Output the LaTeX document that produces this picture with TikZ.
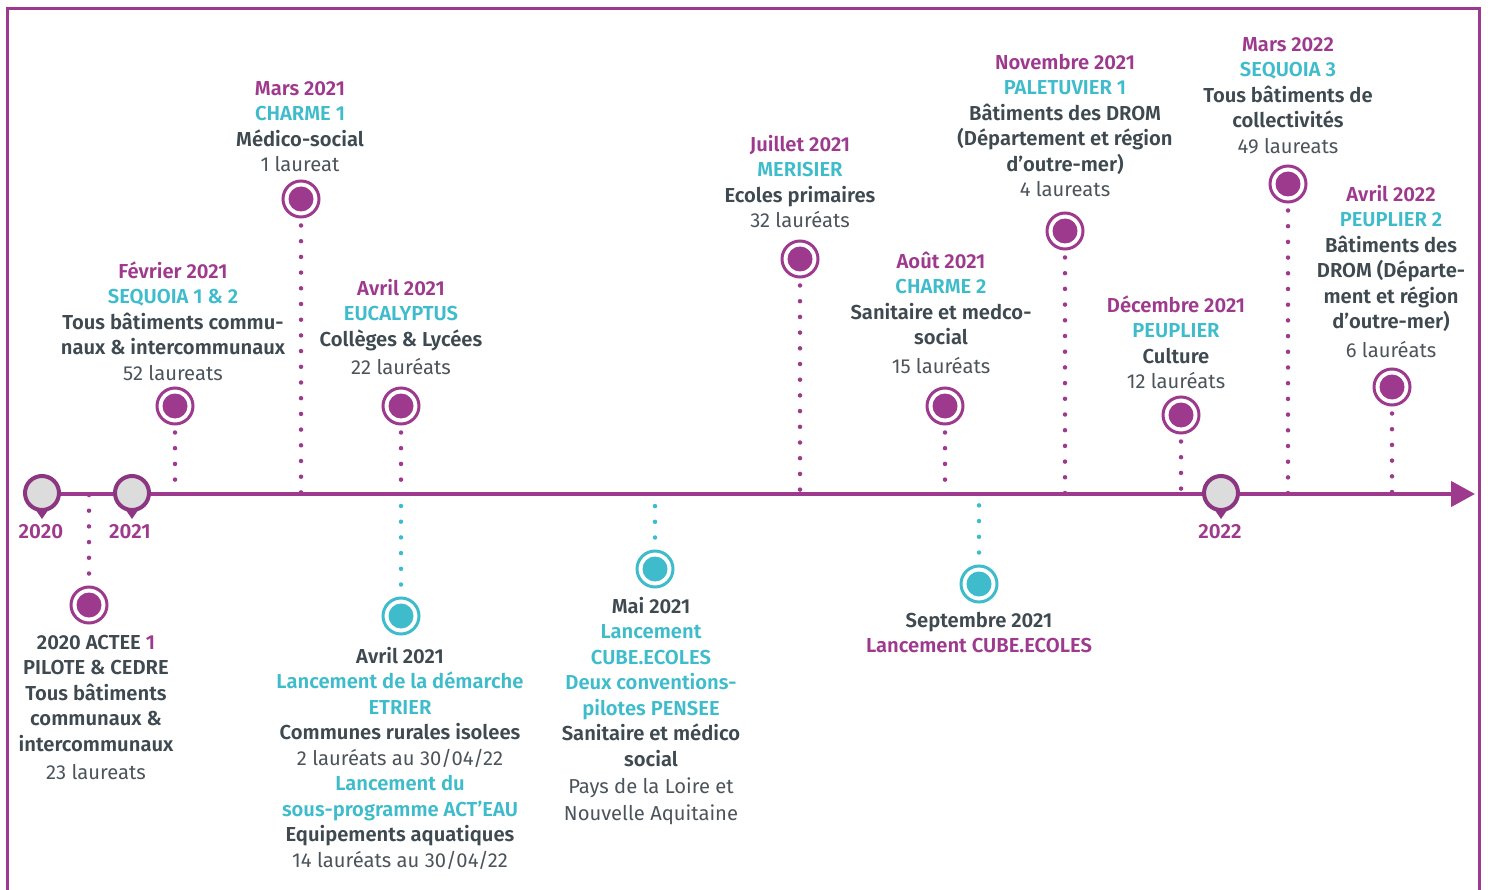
\documentclass[tikz,border=0pt]{standalone}
\usepackage{fontspec}
\setmainfont{Fira Sans}[BoldFont={Fira Sans SemiBold}]
\usetikzlibrary{arrows.meta,calc,backgrounds}
\definecolor{pur}{HTML}{9E3A8D}
\definecolor{cya}{HTML}{3FBCCB}
\definecolor{dk}{HTML}{3E4950}
\definecolor{gy}{HTML}{4B545A}
\definecolor{pinfill}{HTML}{DCDCDC}
\definecolor{pinring}{HTML}{8C3580}
\newcommand\Pu[1]{{\bfseries\color{pur}#1}}
\newcommand\Cy[1]{{\bfseries\color{cya}#1}}
\newcommand\Dk[1]{{\bfseries\color{dk}#1}}
\newcommand\Rg[1]{{\color{gy}#1}}
\tikzset{
  blk/.style={align=center, inner sep=0pt, anchor=north, font=\fontsize{20.2}{25.5}\selectfont},
  evP/.style={circle, draw=pur, line width=3pt, fill=white, minimum size=36pt, inner sep=0pt,
     path picture={\fill[pur] (path picture bounding box.center) circle[radius=12.5pt];}},
  evC/.style={circle, draw=cya, line width=3pt, fill=white, minimum size=36pt, inner sep=0pt,
     path picture={\fill[cya] (path picture bounding box.center) circle[radius=12.5pt];}},
  yrpin/.style={circle, draw=pinring, fill=pinfill, line width=4pt, minimum size=34pt, inner sep=0pt},
  yrlab/.style={inner sep=0pt, font=\fontsize{20.5}{24}\selectfont\bfseries, text=pur},
  dotP/.style={pur, line width=4.5pt, line cap=round, dash pattern=on 0pt off 15.7pt},
  dotC/.style={cya, line width=4.5pt, line cap=round, dash pattern=on 0pt off 15.7pt},
}
\begin{document}
\begin{tikzpicture}[x=1pt,y=-1pt]
\useasboundingbox (0,0) rectangle (1488,890);
% frame
\draw[pur, line width=3pt] (7,890) -- (7,9) -- (1479,9) -- (1479,890);
% timeline coordinates
\coordinate (tl0) at (30,494);
\coordinate (tl1) at (1475,494);
% event markers (top)
\node[evP] (feb21) at (175,406) {};
\node[evP] (mar21) at (301,199) {};
\node[evP] (avr21) at (401,406) {};
\node[evP] (jul21) at (800,259) {};
\node[evP] (aou21) at (945,406) {};
\node[evP] (nov21) at (1065,231) {};
\node[evP] (dec21) at (1181,415) {};
\node[evP] (mar22) at (1288,184) {};
\node[evP] (avr22) at (1392,387) {};
% event markers (bottom)
\node[evP] (actee) at (89,605) {};
\node[evC] (avr21b) at (401,616) {};
\node[evC] (mai21) at (655,569) {};
\node[evC] (sep21) at (979,584) {};
% year pins
\foreach \n/\x in {p2020/42,p2021/132,p2022/1221}{
  \fill[pinring] (\x-11,503) -- (\x,519) -- (\x+11,503) -- cycle;
  \node[yrpin] (\n) at (\x,493) {};
}
\begin{pgfonlayer}{background}
\foreach \m in {feb21,mar21,avr21,jul21,aou21,nov21,dec21,mar22,avr22}{
  \draw[dotP] ($(\m.south)+(0,7)$) -- (\m.south |- tl0);
}
\draw[dotP] ($(actee.north)+(0,-12)$) -- (actee.north |- tl0);
\foreach \m in {avr21b,mai21,sep21}{
  \draw[dotC] ($(\m.north)+(0,-12)$) -- (\m.north |- tl0);
}
\draw[pur, line width=4.5pt, -{Triangle[length=24pt,width=25pt]}] (tl0) -- (tl1);
\end{pgfonlayer}
\node[yrlab] (y2020) at (41,532) {2020};
\node[yrlab] (y2021) at (130,532) {2021};
\node[yrlab] (y2022) at (1220,532) {2022};
% text blocks
\node[blk] (tfeb21) at (173,260) {\strut\Pu{Février 2021}\\ \Cy{SEQUOIA 1 \& 2}\\ \Dk{Tous bâtiments commu-}\\ \Dk{naux \& intercommunaux}\\ \Rg{52 laureats}};
\node[blk] (tmar21) at (300,77) {\strut\Pu{Mars 2021}\\ \Cy{CHARME 1}\\ \Dk{Médico-social}\\ \Rg{1 laureat}};
\node[blk] (tavr21) at (401,277) {\strut\Pu{Avril 2021}\\ \Cy{EUCALYPTUS}\\ \Dk{Collèges \& Lycées}\\[3pt] \Rg{22 lauréats}};
\node[blk] (tjul21) at (800,133) {\strut\Pu{Juillet 2021}\\ \Cy{MERISIER}\\ \Dk{Ecoles primaires}\\ \Rg{32 lauréats}};
\node[blk] (taou21) at (941,250) {\strut\Pu{Août 2021}\\ \Cy{CHARME 2}\\ \Dk{Sanitaire et medco-}\\ \Dk{social}\\[3pt] \Rg{15 lauréats}};
\node[blk] (tnov21) at (1065,51) {\strut\Pu{Novembre 2021}\\ \Cy{PALETUVIER 1}\\ \Dk{Bâtiments des DROM}\\ \Dk{(Département et région}\\ \Dk{d’outre-mer)}\\ \Rg{4 laureats}};
\node[blk] (tdec21) at (1176,294) {\strut\Pu{Décembre 2021}\\ \Cy{PEUPLIER}\\ \Dk{Culture}\\ \Rg{12 lauréats}};
\node[blk] (tmar22) at (1288,33) {\strut\Pu{Mars 2022}\\ \Cy{SEQUOIA 3}\\ \Dk{Tous bâtiments de}\\ \Dk{collectivités}\\ \Rg{49 laureats}};
\node[blk] (tavr22) at (1391,183) {\strut\Pu{Avril 2022}\\ \Cy{PEUPLIER 2}\\ \Dk{Bâtiments des}\\ \Dk{DROM (Départe-}\\ \Dk{ment et région}\\ \Dk{d’outre-mer)}\\[3pt] \Rg{6 lauréats}};
\node[blk] (tactee) at (96,631) {\strut\Dk{2020 ACTEE \textcolor{pur}{1}}\\ \Dk{PILOTE \& CEDRE}\\ \Dk{Tous bâtiments}\\ \Dk{communaux \&}\\ \Dk{intercommunaux}\\[3pt] \Rg{23 laureats}};
\node[blk] (tavr21b) at (400,645) {\strut\Dk{Avril 2021}\\ \Cy{Lancement de la démarche}\\ \Cy{ETRIER}\\ \Dk{Communes rurales isolees}\\ \Rg{2 lauréats au 30/04/22}\\ \Cy{Lancement du}\\ \Cy{sous-programme ACT’EAU}\\ \Dk{Equipements aquatiques}\\ \Rg{14 lauréats au 30/04/22}};
\node[blk] (tmai21) at (651,595) {\strut\Dk{Mai 2021}\\ \Cy{Lancement}\\ \Cy{CUBE.ECOLES}\\ \Cy{Deux conventions-}\\ \Cy{pilotes PENSEE}\\ \Dk{Sanitaire et médico}\\ \Dk{social}\\[2pt] \Rg{Pays de la Loire et}\\[1pt] \Rg{Nouvelle Aquitaine}};
\node[blk] (tsep21) at (979,609) {\strut\Dk{Septembre 2021}\\ \Pu{Lancement CUBE.ECOLES}};
\end{tikzpicture}
\end{document}
